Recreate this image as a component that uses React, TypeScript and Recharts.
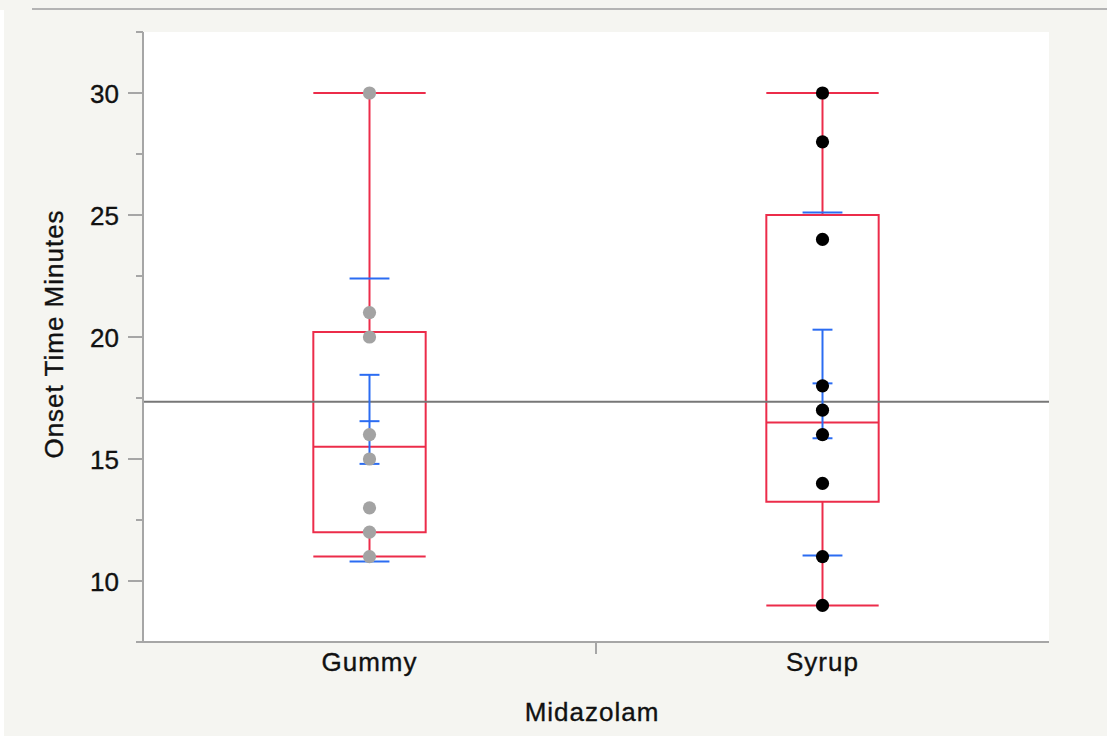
import React from 'react';
import {
  ComposedChart,
  XAxis,
  YAxis,
  Scatter,
  ReferenceLine,
  ReferenceArea,
  CartesianGrid,
} from 'recharts';

// ---- data ----
const categories = ['Gummy', 'Syrup'];
const gummyPoints = [30, 21, 20, 16, 15, 13, 12, 11];
const syrupPoints = [30, 28, 24, 18, 17, 16, 14, 11, 9];
const whiskerLow = [11, 9];
const quartile1 = [12, 13.25];
const medians = [15.5, 16.5];
const quartile3 = [20.2, 25];
const whiskerHigh = [30, 30];
const means = [16.55, 18.1];
const ciLow = [14.8, 15.85];
const ciHigh = [18.45, 20.3];
const sdLow = [10.8, 11.05];
const sdHigh = [22.4, 25.1];
const grandMean = 17.35;
const yTicks = [7.5, 10, 12.5, 15, 17.5, 20, 22.5, 25, 27.5, 30, 32.5];

// ---- styles ----
const RED = '#ec2c4a';
const BLUE = '#2b6cf2';
const AXIS = '#a6a6a6';
const TEXT = '#111111';
const FONT = '"Liberation Sans", Arial, Helvetica, sans-serif';
const BOX_HALF = 0.124;
const SD_HALF = 0.044;
const CI_HALF = 0.022;

const center = (i: number) => i + 0.5;
const xTicks = categories.flatMap((_, i) => (i > 0 ? [i, center(i)] : [center(i)]));

const gummyData = gummyPoints.map((v) => ({ x: center(0), y: v }));
const syrupData = syrupPoints.map((v) => ({ x: center(1), y: v }));

const textProps = {
  fontSize: 26,
  fill: TEXT,
  fontFamily: FONT,
  stroke: TEXT,
  strokeWidth: 0.35,
};

const YTick = (props: any) => {
  const { x, y, payload } = props;
  const v = payload.value;
  const major = Number.isInteger(v) && v % 5 === 0;
  return (
    <g>
      <line x1={x - (major ? 15 : 7)} x2={x} y1={y} y2={y} stroke={AXIS} strokeWidth={2} />
      {major && (
        <text x={x - 24} y={y + 9.5} textAnchor="end" {...textProps}>
          {v}
        </text>
      )}
    </g>
  );
};

const XTick = (props: any) => {
  const { x, y, payload } = props;
  const v = payload.value;
  if (Number.isInteger(v)) {
    return <line x1={x} x2={x} y1={y} y2={y + 12} stroke={AXIS} strokeWidth={2} />;
  }
  return (
    <text x={x} y={y + 29} textAnchor="middle" letterSpacing={1} {...textProps}>
      {categories[v - 0.5]}
    </text>
  );
};

const seg = (i: number, half: number, y: number) => [
  { x: center(i) - half, y },
  { x: center(i) + half, y },
];
const vseg = (i: number, y1: number, y2: number) => [
  { x: center(i), y: y1 },
  { x: center(i), y: y2 },
];

export default function App() {
  const redLines: any[] = [];
  const blueLines: any[] = [];
  categories.forEach((_, i) => {
    redLines.push(
      <ReferenceArea
        key={`box${i}`}
        x1={center(i) - BOX_HALF}
        x2={center(i) + BOX_HALF}
        y1={quartile1[i]}
        y2={quartile3[i]}
        fill="none"
        fillOpacity={0}
        stroke={RED}
        strokeWidth={2}
        strokeOpacity={1}
      />,
      <ReferenceLine key={`med${i}`} segment={seg(i, BOX_HALF, medians[i])} stroke={RED} strokeWidth={2} />,
      <ReferenceLine key={`wh${i}`} segment={vseg(i, quartile3[i], whiskerHigh[i])} stroke={RED} strokeWidth={2} />,
      <ReferenceLine key={`wl${i}`} segment={vseg(i, whiskerLow[i], quartile1[i])} stroke={RED} strokeWidth={2} />,
      <ReferenceLine key={`ch${i}`} segment={seg(i, BOX_HALF, whiskerHigh[i])} stroke={RED} strokeWidth={2} />,
      <ReferenceLine key={`cl${i}`} segment={seg(i, BOX_HALF, whiskerLow[i])} stroke={RED} strokeWidth={2} />
    );
    blueLines.push(
      <ReferenceLine key={`ci${i}`} segment={vseg(i, ciLow[i], ciHigh[i])} stroke={BLUE} strokeWidth={2} />,
      <ReferenceLine key={`cih${i}`} segment={seg(i, CI_HALF, ciHigh[i])} stroke={BLUE} strokeWidth={2} />,
      <ReferenceLine key={`cil${i}`} segment={seg(i, CI_HALF, ciLow[i])} stroke={BLUE} strokeWidth={2} />,
      <ReferenceLine key={`mean${i}`} segment={seg(i, CI_HALF, means[i])} stroke={BLUE} strokeWidth={2} />,
      <ReferenceLine key={`sdh${i}`} segment={seg(i, SD_HALF, sdHigh[i])} stroke={BLUE} strokeWidth={2} />,
      <ReferenceLine key={`sdl${i}`} segment={seg(i, SD_HALF, sdLow[i])} stroke={BLUE} strokeWidth={2} />
    );
  });

  return (
    <div
      style={{
        position: 'absolute',
        left: 0,
        top: 0,
        width: 1107,
        height: 736,
        background: '#f5f5f1',
        overflow: 'hidden',
        fontFamily: FONT,
      }}
    >
      <div style={{ position: 'absolute', left: 0, top: 10, width: 4, height: 726, background: '#ffffff' }} />
      <div style={{ position: 'absolute', left: 32, top: 8, width: 1075, height: 2, background: '#b4b4b4' }} />
      <div style={{ position: 'absolute', left: 0, top: 0 }}>
        <ComposedChart width={1107} height={736} margin={{ top: 32, right: 58, bottom: 0, left: 0 }}>
          <CartesianGrid horizontal={false} vertical={false} fill="#ffffff" />
          <XAxis
            xAxisId={0}
            type="number"
            dataKey="x"
            domain={[0, 2]}
            allowDataOverflow
            ticks={xTicks}
            interval={0}
            height={94}
            tickSize={0}
            tickMargin={0}
            tickLine={false}
            tick={<XTick />}
            axisLine={{ stroke: AXIS, strokeWidth: 2 }}
            label={{
              content: (p: any) => {
                const vb = p.viewBox;
                return (
                  <text
                    x={vb.x + vb.width / 2 - 4}
                    y={vb.y + vb.height - 15}
                    textAnchor="middle"
                    letterSpacing={1}
                    {...textProps}
                  >
                    Midazolam
                  </text>
                );
              },
            }}
          />
          <XAxis
            xAxisId="top"
            orientation="top"
            type="number"
            domain={[0, 2]}
            allowDataOverflow
            height={0}
            tick={false}
            tickLine={false}
            axisLine={{ stroke: AXIS, strokeWidth: 2 }}
          />
          <YAxis
            yAxisId={0}
            type="number"
            dataKey="y"
            domain={[7.5, 32.5]}
            allowDataOverflow
            ticks={yTicks}
            interval={0}
            width={143}
            tickSize={0}
            tickMargin={0}
            tickLine={false}
            tick={<YTick />}
            axisLine={{ stroke: AXIS, strokeWidth: 2 }}
            label={{
              content: (p: any) => {
                const vb = p.viewBox;
                const cx = 63;
                const cy = vb.y + vb.height / 2 - 3;
                return (
                  <text
                    x={cx}
                    y={cy}
                    transform={`rotate(-90 ${cx} ${cy})`}
                    textAnchor="middle"
                    letterSpacing={1}
                    {...textProps}
                  >
                    Onset Time Minutes
                  </text>
                );
              },
            }}
          />
          <YAxis
            yAxisId="right"
            orientation="right"
            type="number"
            domain={[7.5, 32.5]}
            allowDataOverflow
            width={0}
            tick={false}
            tickLine={false}
            axisLine={{ stroke: '#9e9e9e', strokeWidth: 2.5 }}
          />
          <ReferenceLine y={grandMean} stroke="#777777" strokeWidth={2} />
          {redLines}
          {blueLines}
          <Scatter
            data={gummyData}
            dataKey="y"
            isAnimationActive={false}
            shape={(p: any) => <circle cx={p.cx} cy={p.cy} r={6.6} fill="#a3a3a3" />}
          />
          <Scatter
            data={syrupData}
            dataKey="y"
            isAnimationActive={false}
            shape={(p: any) => <circle cx={p.cx} cy={p.cy} r={6.6} fill="#000000" />}
          />
        </ComposedChart>
      </div>
    </div>
  );
}
